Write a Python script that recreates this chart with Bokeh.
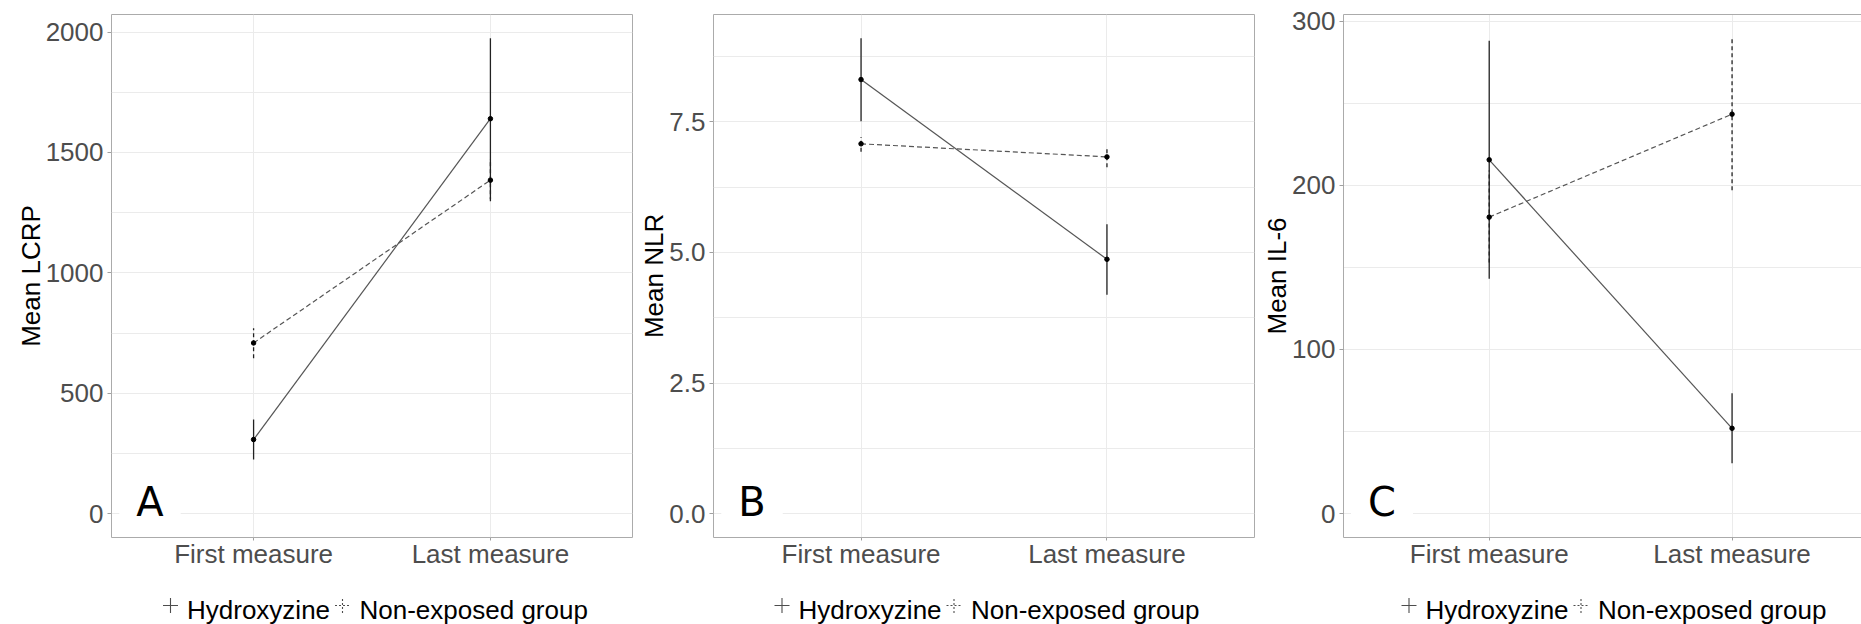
from bokeh.plotting import figure
from bokeh.models import Range1d, FixedTicker, Label, LinearAxis
from bokeh.layouts import row, column
from bokeh.embed import file_html
from bokeh.resources import INLINE
from bokeh.core.properties import value

# ---------------- data ----------------
categories = ["First measure", "Last measure"]
groups = ["Hydroxyzine", "Non-exposed group"]

lcrp_hydro_mean = [308, 1640]
lcrp_hydro_low = [225, 1306]
lcrp_hydro_high = [391, 1974]
lcrp_nonexp_mean = [709, 1385]
lcrp_nonexp_low = [645, 1297]
lcrp_nonexp_high = [770, 1473]

nlr_hydro_mean = [8.31, 4.87]
nlr_hydro_low = [7.51, 4.19]
nlr_hydro_high = [9.10, 5.54]
nlr_nonexp_mean = [7.08, 6.83]
nlr_nonexp_low = [6.93, 6.63]
nlr_nonexp_high = [7.21, 7.02]

il6_hydro_mean = [215.5, 52.0]
il6_hydro_low = [143.0, 30.7]
il6_hydro_high = [288.0, 73.4]
il6_nonexp_mean = [180.6, 243.3]
il6_nonexp_low = [153.0, 196.9]
il6_nonexp_high = [209.0, 289.5]

lcrp_ticks = [0, 500, 1000, 1500, 2000]
lcrp_tick_labels = ["0", "500", "1000", "1500", "2000"]
nlr_ticks = [0, 2.5, 5, 7.5]
nlr_tick_labels = ["0.0", "2.5", "5.0", "7.5"]
il6_ticks = [0, 100, 200, 300]
il6_tick_labels = ["0", "100", "200", "300"]

panel_letters = ["A", "B", "C"]
y_titles = ["Mean LCRP", "Mean NLR", "Mean IL-6"]

# ---------------- style ----------------
FONT = "Liberation Sans"
BORDER = "#ABABAB"
TICK = "#A0A0A0"
GRID = "#EBEBEB"
LINE = "#555555"
ERR = "#222222"
PLOT_H = 575
LEG_H = 49


def make_panel(letter, ytitle, hydro, nonexp, ticks, tick_labels,
               width, left_b, right_b, x_end, cut_right=False):
    hm, hl, hh = hydro
    nm, nl, nh = nonexp
    xs = [i + 1 for i in range(len(categories))]
    lo = min(0, min(hl), min(nl))
    hi = max(max(hh), max(nh))
    pad = 0.05 * (hi - lo)

    p = figure(width=width, height=PLOT_H, output_backend="svg", toolbar_location=None,
               x_range=Range1d(0.4, x_end), y_range=Range1d(lo - pad, hi + pad),
               min_border_left=left_b, min_border_right=right_b,
               min_border_top=14, min_border_bottom=38,
               background_fill_color="white", border_fill_color="white")

    step = ticks[1] - ticks[0]
    minors = [t + step / 2 for t in ticks]
    yticker = FixedTicker(ticks=ticks, minor_ticks=minors)
    xticker = FixedTicker(ticks=xs)

    p.xgrid.ticker = xticker
    p.ygrid.ticker = yticker
    p.xgrid.grid_line_color = GRID
    p.ygrid.grid_line_color = GRID
    p.ygrid.minor_grid_line_color = GRID

    p.yaxis.ticker = yticker
    p.yaxis.major_label_overrides = dict(zip(ticks, tick_labels))
    p.xaxis.ticker = xticker
    p.xaxis.major_label_overrides = dict(zip(xs, categories))

    for ax in (p.xaxis[0], p.yaxis[0]):
        ax.major_label_text_font = FONT
        ax.major_label_text_font_size = "26px"
        ax.major_label_text_color = "#4D4D4D"
        ax.major_tick_line_color = TICK
        ax.minor_tick_line_color = None
        ax.major_tick_in = 0
        ax.axis_line_color = BORDER if cut_right else None
    p.yaxis.major_tick_out = 4
    p.yaxis.major_label_standoff = 4
    p.xaxis.major_tick_out = 3
    p.xaxis.major_label_standoff = -2

    p.yaxis.axis_label = ytitle
    p.yaxis.axis_label_text_font = FONT
    p.yaxis.axis_label_text_font_size = "26px"
    p.yaxis.axis_label_text_font_style = "normal"
    p.yaxis.axis_label_text_color = "black"
    p.yaxis.axis_label_standoff = -3

    if cut_right:
        p.outline_line_color = None
        top = LinearAxis(ticker=FixedTicker(ticks=[]), axis_line_color=BORDER,
                         major_tick_line_color=None, minor_tick_line_color=None,
                         major_label_text_font_size="0px")
        p.add_layout(top, "above")
    else:
        p.outline_line_color = BORDER
        p.outline_line_width = 1

    # connecting lines
    p.line(xs, hm, line_color=LINE, line_width=1.2)
    p.line(xs, nm, line_color=LINE, line_width=1.2, line_dash="5 3")
    # error bars
    p.segment(x0=xs, y0=hl, x1=xs, y1=hh, line_color=ERR, line_width=1.3)
    p.segment(x0=xs, y0=nl, x1=xs, y1=nh, line_color=ERR, line_width=1.3, line_dash="4 3")
    # points
    p.scatter(xs, hm, size=4.5, color="black")
    p.scatter(xs, nm, size=4.5, color="black")

    p.add_layout(Label(x=38.5, y=35.5, x_units="screen", y_units="screen", text=letter,
                       text_font="DejaVu Sans", text_font_size="40px", text_color="black",
                       text_align="center", text_baseline="alphabetic",
                       background_fill_color="white", padding=(17, 2)))
    return p


def make_legend(width, left_b, right_b, key_offset):
    # legend strip below a panel; its frame is aligned with the panel's frame,
    # x measured in pixels from the frame's left edge
    frame_w = width - left_b - right_b
    lf = figure(width=width, height=LEG_H, output_backend="svg", toolbar_location=None,
                x_range=Range1d(0, frame_w), y_range=Range1d(0, LEG_H),
                x_axis_type=None, y_axis_type=None,
                min_border_left=left_b, min_border_right=right_b,
                min_border_top=0, min_border_bottom=0,
                outline_line_color=None, background_fill_color="white",
                border_fill_color="white")
    lf.grid.visible = False
    key_y = 19
    text_y = 15
    lf.scatter([key_offset], [key_y], marker="cross", size=15, line_color="#4D4D4D",
               line_width=1.1)
    lf.scatter([key_offset + 172], [key_y], marker="cross", size=15, line_color="#4D4D4D",
               line_width=1.1, line_dash="2 2")
    lf.text(x=[key_offset + 16.5, key_offset + 189], y=[text_y, text_y], text=groups,
            text_font=value(FONT), text_font_size="26px", text_color="black",
            text_align="left", text_baseline="alphabetic")
    return lf


pA = make_panel(panel_letters[0], y_titles[0],
                (lcrp_hydro_mean, lcrp_hydro_low, lcrp_hydro_high),
                (lcrp_nonexp_mean, lcrp_nonexp_low, lcrp_nonexp_high),
                lcrp_ticks, lcrp_tick_labels, 636, 111, 4, 2.6)
pB = make_panel(panel_letters[1], y_titles[1],
                (nlr_hydro_mean, nlr_hydro_low, nlr_hydro_high),
                (nlr_nonexp_mean, nlr_nonexp_low, nlr_nonexp_high),
                nlr_ticks, nlr_tick_labels, 623, 77, 5, 2.6)
pC = make_panel(panel_letters[2], y_titles[2],
                (il6_hydro_mean, il6_hydro_low, il6_hydro_high),
                (il6_nonexp_mean, il6_nonexp_low, il6_nonexp_high),
                il6_ticks, il6_tick_labels, 602, 84, 0, 2.533, cut_right=True)

lA = make_legend(636, 111, 4, 59)
lB = make_legend(623, 77, 5, 68.5)
lC = make_legend(602, 84, 0, 65.5)

layout = row(column(pA, lA), column(pB, lB), column(pC, lC))
open("out.html", "w").write(file_html(layout, INLINE))
